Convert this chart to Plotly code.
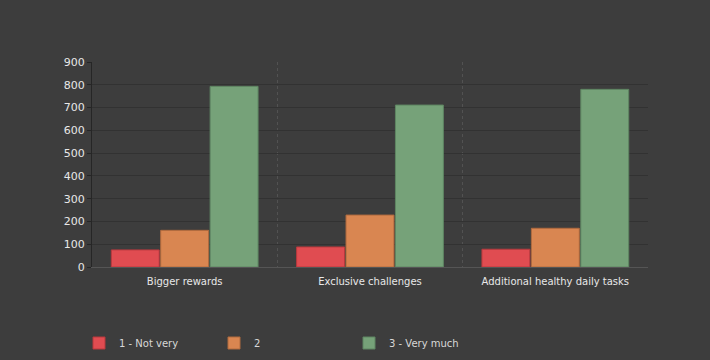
import plotly.graph_objects as go

categories = ["Bigger rewards", "Exclusive challenges", "Additional healthy daily tasks"]
series_names = ["1 - Not very", "2", "3 - Very much"]
not_very = [75, 88, 78]
two = [161, 228, 170]
very_much = [793, 711, 780]
colors = ["#e04c51", "#d98651", "#76a279"]
line_colors = ["#b8393d", "#b06a3e", "#5e8562"]
y_ticks = [0, 100, 200, 300, 400, 500, 600, 700, 800, 900]

fig = go.Figure()
for name, vals, c, lc in zip(series_names, [not_very, two, very_much], colors, line_colors):
    fig.add_trace(go.Bar(x=categories, y=vals, name=name,
                         marker=dict(color=c, line=dict(color=lc, width=1))))

fig.update_layout(
    width=710, height=360,
    margin=dict(l=92, r=62, t=62, b=93),
    paper_bgcolor="#3d3d3d", plot_bgcolor="#3d3d3d",
    barmode="group", bargap=0.2, bargroupgap=0.03,
    font=dict(family="DejaVu Sans", size=11, color="#e0e0e0"),
    showlegend=True,
    legend=dict(orientation="h", xref="container", yref="container",
                x=79 / 710, xanchor="left", y=1 - 343 / 360, yanchor="middle",
                entrywidth=90, entrywidthmode="pixels",
                font=dict(size=10, color="#d8d8d8"), itemwidth=30),
    xaxis=dict(tickson="boundaries", showgrid=True, griddash="dot", gridcolor="#525252",
               gridwidth=1, showline=True, linecolor="#555555", ticks="",
               ticklabelstandoff=5,
               tickfont=dict(size=10, color="#e8e8e8")),
    yaxis=dict(range=[0, 900], tickvals=y_ticks, showgrid=True, gridcolor="#323232",
               showline=True, linecolor="#262626", linewidth=1, ticks="outside",
               ticklen=4, tickcolor="#262626", zeroline=False,
               tickfont=dict(size=11, color="#e8e8e8")),
)

fig.write_html("out.html")
